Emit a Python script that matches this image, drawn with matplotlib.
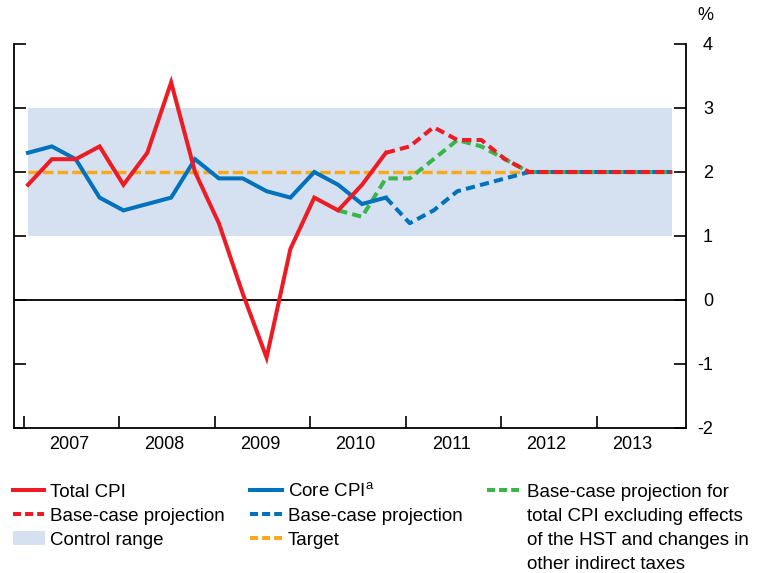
import numpy as np
import matplotlib
matplotlib.use("Agg")
import matplotlib.pyplot as plt
from matplotlib.lines import Line2D
from matplotlib.patches import Rectangle

plt.rcParams['font.family'] = ['Liberation Sans', 'DejaVu Sans']
plt.rcParams['mathtext.fontset'] = 'custom'
plt.rcParams['mathtext.rm'] = 'Liberation Sans'
plt.rcParams['axes.unicode_minus'] = False

# ---- data (quarterly, 2007Q1 .. 2013Q4) ----
years = [2007, 2008, 2009, 2010, 2011, 2012, 2013]
n_quarters = 28

total_cpi = [1.8, 2.2, 2.2, 2.4, 1.8, 2.3, 3.4, 2.0, 1.2, 0.1, -0.9, 0.8,
             1.6, 1.4, 1.8, 2.3]
total_proj = [2.3, 2.4, 2.7, 2.5, 2.5, 2.2, 2.0, 2.0, 2.0, 2.0, 2.0, 2.0, 2.0]
core_cpi = [2.3, 2.4, 2.2, 1.6, 1.4, 1.5, 1.6, 2.2, 1.9, 1.9, 1.7, 1.6,
            2.0, 1.8, 1.5, 1.6]
core_proj = [1.6, 1.2, 1.4, 1.7, 1.8, 1.9, 2.0, 2.0, 2.0, 2.0, 2.0, 2.0, 2.0]
excl_tax_proj = [1.4, 1.3, 1.9, 1.9, 2.2, 2.5, 2.4, 2.2, 2.0, 2.0, 2.0, 2.0,
                 2.0, 2.0, 2.0]
target = 2.0
control_low, control_high = 1.0, 3.0
yticks = [-2, -1, 0, 1, 2, 3, 4]

RED = '#ED1C24'
BLUE = '#0072BC'
GREEN = '#3AB54A'
ORANGE = '#F9A91B'
BAND = '#D5E0F1'

TICK_FS = 13
LEG_FS = 13.5

W, H = 760, 573
fig = plt.figure(figsize=(W / 100, H / 100), dpi=100)
ax = fig.add_axes([14 / W, (H - 428) / H, (686 - 14) / W, (428 - 44) / H])

q = np.arange(n_quarters)
x_hist = q[:len(total_cpi)]
x_proj = q[len(total_cpi) - 1:]
x_excl = q[n_quarters - len(excl_tax_proj):]

lw = 2.9
dash = (2.3, 1.3)

ax.fill_between([q[0], q[-1]], control_low, control_high, color=BAND, lw=0,
                zorder=1)
ax.axhline(0, color='black', lw=1.3, zorder=2)
ax.plot([q[0], q[-1]], [target, target], color=ORANGE, lw=2.5,
        dashes=(3.0, 1.2), zorder=3)
ax.plot(x_excl, excl_tax_proj, color=GREEN, lw=lw, dashes=dash, zorder=4)
ax.plot(x_hist, core_cpi, color=BLUE, lw=lw, zorder=5, solid_joinstyle='miter')
ax.plot(x_proj, core_proj, color=BLUE, lw=lw, dashes=dash, zorder=5)
ax.plot(x_hist, total_cpi, color=RED, lw=lw, zorder=6, solid_joinstyle='miter')
ax.plot(x_proj, total_proj, color=RED, lw=lw, dashes=dash, zorder=6)

ax.set_xlim(-0.587, 27.58)
ax.set_ylim(-2, 4)

for side in ['left', 'right', 'bottom']:
    ax.spines[side].set_linewidth(1.3)
ax.spines['top'].set_visible(False)

# year boundaries and centred year labels
bounds = [-0.17 + 4 * k for k in range(len(years))]
ends = bounds[1:] + [q[-1]]
centres = [(a + b) / 2 - 0.1 for a, b in zip(bounds, ends)]
ax.set_xticks(bounds)
ax.set_xticklabels([])
ax.set_xticks(centres, minor=True)
ax.set_xticklabels([str(y) for y in years], minor=True)
ax.tick_params(axis='x', which='major', direction='in', length=8.5, width=1.2)
ax.tick_params(axis='x', which='minor', length=0, pad=6.0, labelsize=TICK_FS)

ax.set_yticks(yticks)
ax.set_yticklabels([str(v) for v in yticks])
ax.tick_params(axis='y', direction='in', length=8.6, width=1.2, left=True,
               right=True, labelleft=False, labelright=True, pad=19.4,
               labelsize=TICK_FS)
for lab in ax.get_yticklabels():
    lab.set_horizontalalignment('right')

fig.text(713 / W, 1 - 15 / H, '%', ha='right', va='center', fontsize=TICK_FS)


# ---- legend ----
def fx(px):
    return px / W


def fy(py):
    return 1 - py / H


def handle_line(x0, x1, y, color, dashed):
    kw = dict(color=color, lw=2.9, transform=fig.transFigure)
    if dashed:
        kw['dashes'] = (2.0, 1.0)
    fig.add_artist(Line2D([fx(x0), fx(x1)], [fy(y), fy(y)], **kw))


def label(x, baseline, s):
    fig.text(fx(x), fy(baseline), s, ha='left', va='baseline', fontsize=LEG_FS)


base = [497, 521, 545, 569]

handle_line(13, 44, base[0] - 7, RED, False)
label(50, base[0], 'Total CPI')
handle_line(13, 44, base[1] - 7, RED, True)
label(50, base[1], 'Base-case projection')
fig.add_artist(Rectangle((fx(13), fy(545)), fx(45) - fx(13), fy(531) - fy(545),
                         transform=fig.transFigure, color=BAND, lw=0))
label(50, base[2], 'Control range')

handle_line(250, 282, base[0] - 7, BLUE, False)
label(288, base[0], 'Core CPI$^{\\mathrm{a}}$')
handle_line(250, 282, base[1] - 7, BLUE, True)
label(288, base[1], 'Base-case projection')
handle_line(250, 282, base[2] - 7, ORANGE, True)
label(288, base[2], 'Target')

handle_line(487, 519, base[0] - 7, GREEN, True)
green_lines = ['Base-case projection for',
               'total CPI excluding effects',
               'of the HST and changes in',
               'other indirect taxes']
for b, s in zip(base, green_lines):
    label(527, b, s)

fig.savefig('out.png', dpi=100)
